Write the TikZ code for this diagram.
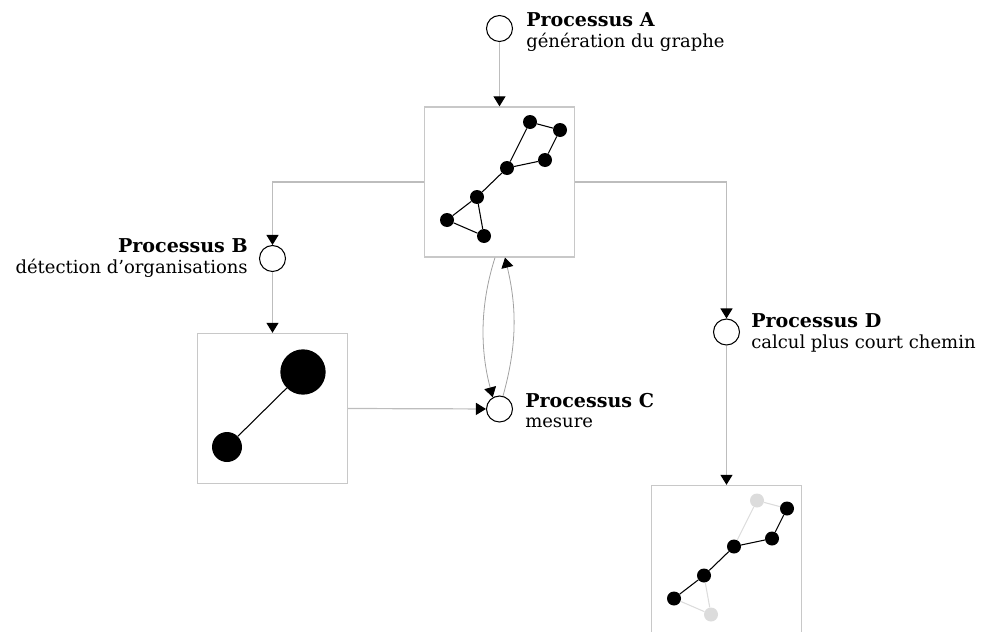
\documentclass[tikz,border=0pt]{standalone}
\usepackage{fontspec}
\setmainfont{DejaVu Serif}
\usetikzlibrary{arrows.meta,calc}
\definecolor{linegray}{HTML}{BDBDBD}
\definecolor{boxgray}{HTML}{C8C8C8}
\definecolor{fadegray}{HTML}{DCDCDC}
\newcommand{\proctitle}[1]{{\fontsize{14.3}{15}\selectfont\bfseries #1}}
\begin{document}
\begin{tikzpicture}[x=0.75pt,y=-0.75pt,
  proc/.style={circle,draw=black,fill=white,line width=0.8pt,minimum size=19.5pt,inner sep=0pt},
  panel/.style={rectangle,draw=boxgray,line width=1pt,minimum size=112.5pt,inner sep=0pt},
  flow/.style={draw=linegray,line width=0.9pt,-{Triangle[color=black,width=9pt,length=7.5pt]}},
  loop/.style={draw=linegray!85!black,line width=0.6pt,-{Triangle[color=black,width=9pt,length=7.5pt]}},
  vtx/.style={circle,fill=black,minimum size=10.5pt,inner sep=0pt},
  vtxg/.style={circle,fill=fadegray,minimum size=10.5pt,inner sep=0pt},
  edg/.style={draw=black,line width=0.8pt},
  edgg/.style={draw=fadegray,line width=0.8pt},
  lab/.style={inner sep=0pt,font=\fontsize{13.5}{15}\selectfont}
]
\useasboundingbox (0,0) rectangle (983,632);
\clip (0,0) rectangle (983,632);

% process circles
\node[proc] (A) at (499.5,28.5) {};
\node[proc] (B) at (272.5,258.5) {};
\node[proc] (C) at (499.5,409) {};
\node[proc] (D) at (726.5,332) {};

% labels
\node[lab,anchor=base west] (A1) at (526,26) {\proctitle{Processus A}};
\node[lab,anchor=base west] (A2) at (526,47) {génération du graphe};
\node[lab,anchor=base east] (B1) at (248,252) {\proctitle{Processus B}};
\node[lab,anchor=base east] (B2) at (248,273) {détection d’organisations};
\node[lab,anchor=base west] (C1) at (525,407) {\proctitle{Processus C}};
\node[lab,anchor=base west] (C2) at (525,427) {mesure};
\node[lab,anchor=base west] (D1) at (751,327) {\proctitle{Processus D}};
\node[lab,anchor=base west] (D2) at (751,348) {calcul plus court chemin};

% panels
\node[panel] (box1) at (499.5,182) {};
\node[panel] (box2) at (272.5,408.5) {};
\node[panel] (box3) at (726.5,560.5) {};

% graph in panel 1
\begin{scope}[shift={(box1.center)}]
  \node[vtx] (a1) at (30.5,-60) {};
  \node[vtx] (a2) at (60.5,-52) {};
  \node[vtx] (a3) at (45.5,-22) {};
  \node[vtx] (a4) at (7.5,-14) {};
  \node[vtx] (a5) at (-22.5,15) {};
  \node[vtx] (a6) at (-52.5,38) {};
  \node[vtx] (a7) at (-15.5,54) {};
\end{scope}
\draw[edg] (a1) -- (a2) -- (a3) -- (a4) -- (a1);
\draw[edg] (a4) -- (a5) -- (a6) -- (a7) -- (a5);

% panel 2: organisations
\node[circle,fill=black,minimum size=34pt,inner sep=0pt] (o1) at (303,372) {};
\node[circle,fill=black,minimum size=22.5pt,inner sep=0pt] (o2) at (227,447) {};
\draw[edg] (o1) -- (o2);

% graph in panel 3 (shortest path)
\begin{scope}[shift={(box3.center)}]
  \node[vtxg] (d1) at (30.5,-60) {};
  \node[vtx] (d2) at (60.5,-52) {};
  \node[vtx] (d3) at (45.5,-22) {};
  \node[vtx] (d4) at (7.5,-14) {};
  \node[vtx] (d5) at (-22.5,15) {};
  \node[vtx] (d6) at (-52.5,38) {};
  \node[vtxg] (d7) at (-15.5,54) {};
\end{scope}
\draw[edgg] (d1) -- (d2);
\draw[edgg] (d1) -- (d4);
\draw[edgg] (d6) -- (d7) -- (d5);
\draw[edg] (d2) -- (d3) -- (d4) -- (d5) -- (d6);

% connectors
\draw[flow] (A) -- (box1.north);
\draw[flow] (box1.west) -| (B);
\draw[flow] (B) -- (box2.north);
\draw[flow] (box2.east) -- (C);
\draw[flow] (box1.east) -| (D);
\draw[flow] (D) -- (box3.north);
\draw[loop] ($(box1.south)+(-4.5,0)$) .. controls +(-16,50) and +(-12,-45) .. (C.120);
\draw[loop] (C.75) .. controls +(14,-50) and +(12,50) .. ($(box1.south)+(5.5,0)$);
\end{tikzpicture}
\end{document}
